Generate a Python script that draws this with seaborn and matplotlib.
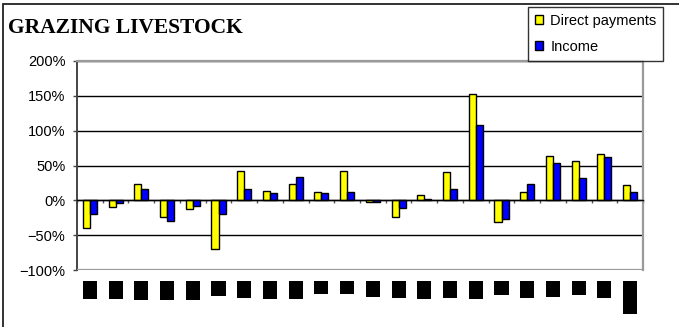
import matplotlib
matplotlib.use("Agg")
import matplotlib.pyplot as plt
from matplotlib.patches import Rectangle
from matplotlib.ticker import PercentFormatter
import seaborn as sns
import pandas as pd

# Data: year-on-year change (%) by country
countries = ["DK", "DE", "HU", "MT", "CY", "LT", "EL", "UK", "BE", "IT", "FI",
             "LV", "PL", "CZ", "LU", "EE", "IE", "NL", "AT", "SI", "PT", "EU-25"]
direct_payments = [-40, -10, 24, -24, -12, -70, 42, 14, 24, 12, 42,
                   -2, -24, 8, 40, 152, -31, 12, 64, 57, 66, 22]
income = [-20, -4, 16, -30, -8, -20, 16, 10, 33, 10, 12,
          -2, -11, 2, 16, 108, -27, 24, 54, 32, 62, 12]
series = ["Direct payments", "Income"]
colors = ["#FFFF00", "#0000FF"]
y_ticks = [-100, -50, 0, 50, 100, 150, 200]
title = "GRAZING LIVESTOCK"

plt.rcParams["font.family"] = ["Liberation Sans", "DejaVu Sans"]

df = pd.DataFrame({
    "country": countries * 2,
    "series": [series[0]] * len(countries) + [series[1]] * len(countries),
    "value": direct_payments + income,
})

W, H = 679, 327
fig = plt.figure(figsize=(W / 100, H / 100), dpi=100)
fig.patch.set_facecolor("white")
ax = fig.add_axes([77 / W, 1 - 270 / H, 566 / W, 209 / H])

sns.barplot(data=df, x="country", y="value", hue="series", hue_order=series,
            palette=colors, saturation=1, width=0.55, edgecolor="black",
            linewidth=1, ax=ax, legend=True)

handles, labels = ax.get_legend_handles_labels()
ax.get_legend().remove()
ax.set_xlabel("")
ax.set_ylabel("")

ax.set_xlim(-0.5, len(countries) - 0.5)
ax.set_ylim(y_ticks[0], y_ticks[-1])

# Horizontal gridlines
ax.set_axisbelow(True)
ax.yaxis.grid(True, color="black", linewidth=1)
ax.axhline(y_ticks[0], color="#9a9a9a", linewidth=1.6, zorder=3)

# Category axis runs along zero
ax.spines["bottom"].set_position(("data", 0))
ax.spines["bottom"].set_color("black")
ax.spines["bottom"].set_linewidth(1)
ax.spines["bottom"].set_zorder(4)
for side in ("top", "right"):
    ax.spines[side].set_color("#9a9a9a")
    ax.spines[side].set_linewidth(1.6)
ax.spines["left"].set_color("#444444")
ax.spines["left"].set_linewidth(1.4)

ax.set_xticks(range(len(countries)))
ax.tick_params(axis="x", which="major", length=0, labelbottom=False)
ax.set_xticks([i - 0.5 for i in range(len(countries) + 1)], minor=True)
ax.tick_params(axis="x", which="minor", length=2.3, width=1, color="#555555",
               direction="out")

ax.set_yticks(y_ticks)
ax.yaxis.set_major_formatter(PercentFormatter(decimals=0))
ax.tick_params(axis="y", length=2.9, width=1, color="#444444", pad=5.5,
               labelsize=10.5)

# Country labels below the plot area
for i, c in enumerate(countries):
    ax.annotate(c, xy=(i, 0), xycoords=ax.get_xaxis_transform(),
                xytext=(0, -13 * 0.72), textcoords="offset points",
                rotation=90, ha="center", va="top", fontsize=7.5,
                color="black", annotation_clip=False,
                bbox=dict(boxstyle="square,pad=0.2", fc="black", ec="none"))

fig.text(8 / W, 1 - 33 / H, title, family=["Liberation Serif", "DejaVu Serif"],
         weight="bold", size=15.5, ha="left", va="baseline")

leg = fig.legend(handles, labels, loc="upper right",
                 bbox_to_anchor=(663 / W, 1 - 7 / H), fontsize=10.5,
                 frameon=True, fancybox=False, shadow=False,
                 handlelength=0.55, handleheight=0.55, handletextpad=0.5,
                 labelspacing=0.85, borderpad=0.45, borderaxespad=0)
leg.get_frame().set_edgecolor("black")
leg.get_frame().set_linewidth(1)
for h in leg.legend_handles:
    h.set_edgecolor("black")
    h.set_linewidth(1)

# Outer chart frame
fig.patches.append(Rectangle((3 / W, -0.1), 1.2, 1 - 4 / H + 0.1,
                             transform=fig.transFigure, fill=False,
                             edgecolor="#222222", linewidth=1.3))

fig.savefig("out.png", dpi=100)
